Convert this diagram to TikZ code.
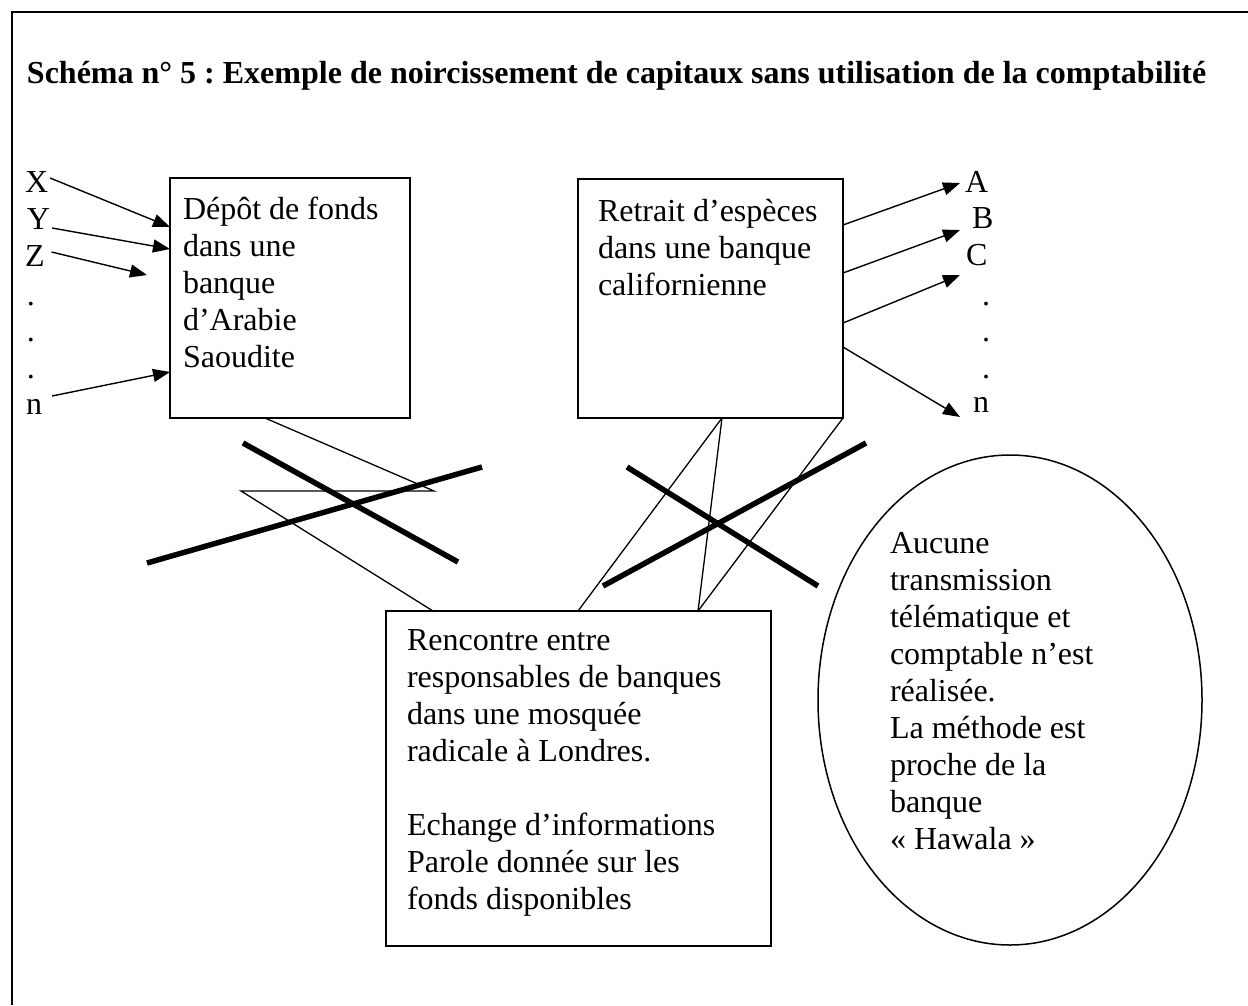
\documentclass[tikz,border=0pt]{standalone}
\usepackage{fontspec}
\setmainfont{Liberation Serif}
\usetikzlibrary{arrows.meta,calc,shapes.geometric}
\frenchspacing
\begin{document}
\begin{tikzpicture}[x=1pt,y=-1pt,
  box/.style={draw, line width=1.6pt, rectangle, inner sep=0pt, outer sep=0pt},
  txt/.style={anchor=base west, inner sep=0pt, outer sep=0pt, font=\fontsize{32}{37}\selectfont},
  arr/.style={line width=1.4pt, -{Triangle[length=17pt,width=13pt]}},
  thinline/.style={line width=1.3pt},
  cross/.style={line width=5.5pt},
]
\useasboundingbox (0,0) rectangle (1248,1005);
\draw[line width=2.5pt] (12,1005) -- (12,12) -- (1248,12);

% title
\node[txt, font=\fontsize{32}{37}\selectfont\bfseries] (title) at (27,83)
  {Schéma n° 5 : Exemple de noircissement de capitaux sans utilisation de la comptabilité};

% boxes
\node[box, minimum width=240pt, minimum height=240pt] (dep) at (290,298) {};
\node[txt] (deptxt) at (183,219) {\parbox[t]{220pt}{\raggedright Dépôt de fonds\\dans une\\banque\\d’Arabie\\Saoudite}};

\node[box, minimum width=265pt, minimum height=239pt] (ret) at (710.5,298.5) {};
\node[txt] (rettxt) at (598,221) {\parbox[t]{240pt}{\raggedright Retrait d’espèces\\dans une banque\\californienne}};

\node[box, minimum width=385pt, minimum height=335pt] (ren) at (578.5,778.5) {};
\node[txt] (rentxt) at (407,650) {\parbox[t]{360pt}{\raggedright Rencontre entre\\responsables de banques\\dans une mosquée\\radicale à Londres.\\[37pt]Echange d’informations\\Parole donnée sur les\\fonds disponibles}};

\node[draw, ellipse, line width=1.5pt, minimum width=384pt, minimum height=490pt, inner sep=0pt] (ell) at (1010,700) {};
\node[txt] (elltxt) at (890,553) {\parbox[t]{300pt}{\raggedright Aucune\\transmission\\télématique et\\comptable n’est\\réalisée.\\La méthode est\\proche de la\\banque\\« Hawala »}};

% left labels
\node[txt] (X) at (25,192) {X};
\node[txt] (Y) at (27,229) {Y};
\node[txt] (Z) at (25,266) {Z};
\node[txt] (ld1) at (27,305) {.};
\node[txt] (ld2) at (27,341) {.};
\node[txt] (ld3) at (27,378) {.};
\node[txt] (nl) at (26,414) {n};

% right labels
\node[txt] (A) at (965,192) {A};
\node[txt] (B) at (972,228) {B};
\node[txt] (C) at (966,265) {C};
\node[txt] (rd1) at (982,305) {.};
\node[txt] (rd2) at (982,341) {.};
\node[txt] (rd3) at (982,378) {.};
\node[txt] (nr) at (973,412) {n};

% left arrows
\coordinate (zend) at (147,275);
\draw[arr] ($(X.base east)+(2,-14)$) -- ($(dep.north west)+(0,49)$);
\draw[arr] ($(Y.base east)+(2,-1)$) -- ($(dep.north west)+(0,71)$);
\draw[arr] ($(Z.base east)+(7,-14)$) -- (zend);
\draw[arr] ($(nl.base east)+(10,-18)$) -- ($(dep.north west)+(0,194)$);

% right arrows
\draw[arr] ($(ret.north east)+(0,46)$) -- ($(A.base west)+(-5,-9)$);
\draw[arr] ($(ret.north east)+(0,94)$) -- ($(B.base west)+(-12,2)$);
\draw[arr] ($(ret.north east)+(0,144)$) -- ($(C.base west)+(-6,10)$);
\draw[arr] ($(ret.north east)+(0,168)$) -- ($(nr.base west)+(-13,5)$);

% thin connectors between boxes
\coordinate (k1) at (434,491);
\coordinate (k2) at (241,491);
\draw[thinline] ($(dep.south west)+(95,0)$) -- (k1) -- (k2) -- ($(ren.north west)+(47,0)$);
\draw[thinline] ($(ret.south west)+(144,0)$) -- ($(ren.north west)+(192,0)$);
\draw[thinline] ($(ret.south west)+(144,0)$) -- ($(ren.north west)+(312,0)$);
\draw[thinline] (ret.south east) -- ($(ren.north west)+(312,0)$);

% crossing-out strokes
\draw[cross] (243,443) -- (458,562);
\draw[cross] (147,563) -- (482,467);
\draw[cross] (627,467) -- (818,586);
\draw[cross] (603,586) -- (866,443);
\end{tikzpicture}
\end{document}
